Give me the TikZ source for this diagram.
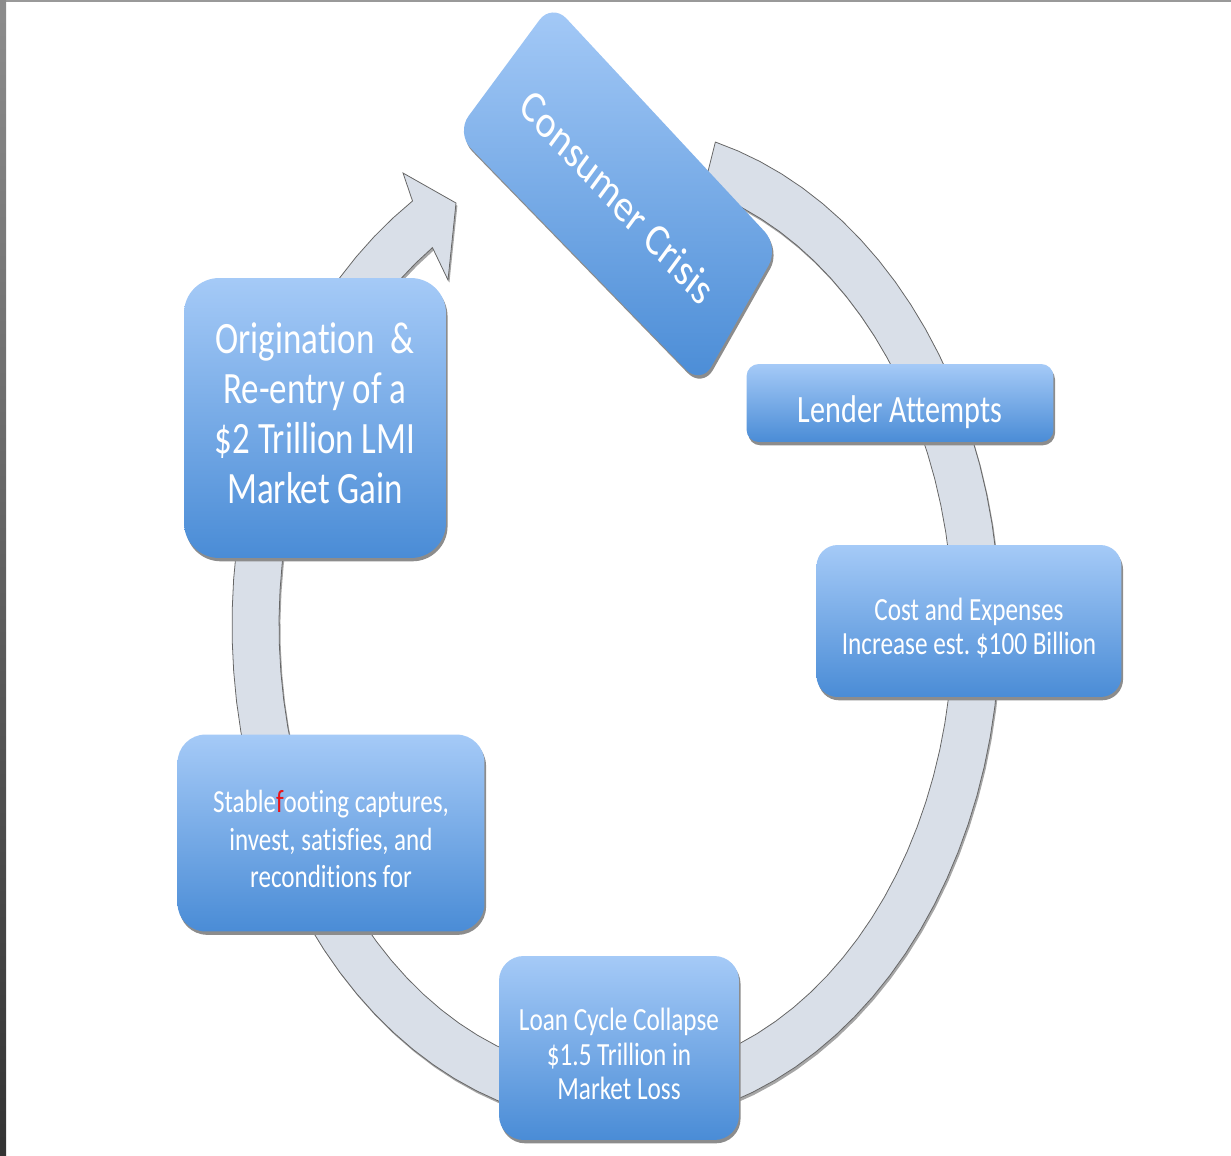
\documentclass[tikz,border=0pt]{standalone}
\usepackage{fontspec}
\usetikzlibrary{shadows}
\setmainfont{Carlito}[Ligatures=CommonOff]
\newfontfamily\boxfont{Carlito}[FakeStretch=0.78, Ligatures=CommonOff]
\definecolor{ringgray}{RGB}{217,223,232}
\definecolor{boxtop}{RGB}{165,202,247}
\definecolor{boxbot}{RGB}{74,140,214}
\definecolor{footred}{RGB}{232,20,26}
\tikzset{
  cyclebox/.style={rectangle, inner sep=0pt, top color=boxtop, bottom color=boxbot,
    drop shadow={shadow xshift=0.9pt, shadow yshift=-1.9pt, fill=black!45, opacity=1}},
  boxlabel/.style={text=white, align=center, inner sep=0pt},
  cyclering/.style={fill=ringgray, draw=black!60, line width=0.45pt,
    drop shadow={shadow xshift=0.8pt, shadow yshift=-1.5pt, fill=black!35, opacity=1}},
  bigtext/.style={font=\boxfont\fontsize{25.5}{28.5}\selectfont},
  smalltext/.style={font=\boxfont\fontsize{18.4}{19.8}\selectfont}
}
\frenchspacing
\begin{document}
\begin{tikzpicture}[x=0.02cm, y=-0.02cm]
    \useasboundingbox (0,0) rectangle (1231,1156);
    % frame
    \fill[black!40] (0,0) rectangle (1231,2);
    \shade[top color=black!45, bottom color=black!80] (0,0) rectangle (6,1156);
    % ring with arrow head
    \path[cyclering] plot[domain=-75:238, samples=90] ({616+384*cos(\x)}, {625+500*sin(\x)})
        -- (403,173) -- (456,203) -- (448,280)
        -- plot[domain=237:-75, samples=90] ({616+337*cos(\x)}, {625+450*sin(\x)}) -- cycle;
    % tilted box
    \path[rounded corners=12pt, top color=boxtop, bottom color=boxbot,
        drop shadow={shadow xshift=0.9pt, shadow yshift=-1.9pt, fill=black!45, opacity=1}]
        (552,3) -- (779,247) -- (701,385) -- (456,133) -- cycle;
    \node[boxlabel, font=\fontsize{26}{28}\selectfont, cm={0.6167,-0.6652,0.5495,0.7466,(0,0)}] (crisis) at (618,197) {Consumer Crisis};
    % boxes
    \node[cyclebox, rounded corners=7pt, minimum width=6.14cm, minimum height=1.56cm] (lender) at (900,403) {};
    \node[boxlabel, font=\boxfont\fontsize{22}{26}\selectfont] (lendertext) at (900,412) {Lender Attempts};
    \node[cyclebox, rounded corners=12pt, minimum width=6.10cm, minimum height=3.04cm] (cost) at (969,621) {};
    \node[boxlabel, smalltext] (costtext) at (969,628) {Cost and Expenses\\Increase est. \$100 Billion};
    \node[cyclebox, rounded corners=14pt, minimum width=4.80cm, minimum height=3.68cm] (loan) at (619,1048) {};
    \node[boxlabel, smalltext] (loantext) at (619,1054) {Loan Cycle Collapse\\\$1.5 Trillion in\\Market Loss};
    \node[cyclebox, rounded corners=16pt, minimum width=6.14cm, minimum height=3.94cm] (stable) at (331,833) {};
    \node[boxlabel, font=\boxfont\fontsize{18.3}{21.5}\selectfont] (stabletext) at (331,839) {Stable\textcolor{footred}{f}ooting captures,\\invest, satisfies, and\\reconditions for};
    \node[cyclebox, rounded corners=20pt, minimum width=5.24cm, minimum height=5.60cm] (origin) at (315,418) {};
    \node[boxlabel, bigtext] (origintext) at (315,413) {Origination\ \ \&\\Re-entry of a\\\$2 Trillion LMI\\Market Gain};
\end{tikzpicture}
\end{document}
